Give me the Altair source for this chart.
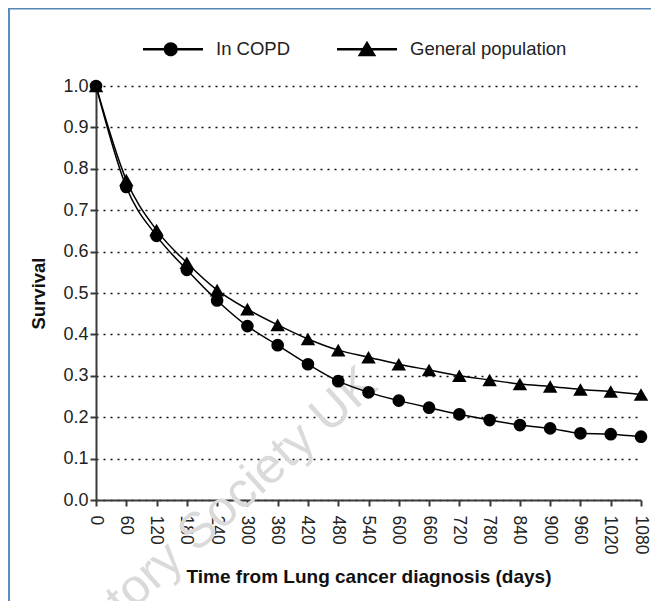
import altair as alt
import pandas as pd

# ---- data ----
days = [0, 60, 120, 180, 240, 300, 360, 420, 480, 540, 600, 660, 720, 780, 840, 900, 960, 1020, 1080]
copd = [1.0, 0.756, 0.638, 0.556, 0.482, 0.420, 0.374, 0.328, 0.287, 0.260, 0.240, 0.223,
        0.207, 0.193, 0.181, 0.173, 0.161, 0.159, 0.153]
general = [1.0, 0.773, 0.652, 0.573, 0.507, 0.461, 0.423, 0.389, 0.362, 0.345, 0.328, 0.314,
           0.300, 0.290, 0.280, 0.274, 0.267, 0.262, 0.255]
series_names = ["In COPD", "General population"]
y_ticks = [0.0, 0.1, 0.2, 0.3, 0.4, 0.5, 0.6, 0.7, 0.8, 0.9, 1.0]
x_ticks = days

rows = []
for name, vals in zip(series_names, [copd, general]):
    for d, v in zip(days, vals):
        rows.append({"days": d, "survival": v, "series": name})
df = pd.DataFrame(rows)

FONT = "Liberation Sans"

# legend symbols: horizontal bar (filled) with marker, all drawn clockwise
path_circle = ("M-1,-0.04L1,-0.04L1,0.04L-1,0.04Z"
               "M0.16,0A0.235,0.235,0,1,1,-0.31,0A0.235,0.235,0,1,1,0.16,0Z")
path_tri = ("M-1,-0.04L1,-0.04L1,0.04L-1,0.04Z"
            "M0,-0.28L0.31,0.23L-0.31,0.23Z")

x_enc = alt.X("days:Q",
              scale=alt.Scale(domain=[0, 1080], nice=False, zero=True),
              axis=alt.Axis(values=x_ticks, format="d", labelAngle=90, labelFontSize=17.5,
                            labelFont=FONT, labelColor="#222", labelPadding=9, labelOffset=-1,
                            tickSize=6, tickWidth=2, tickColor="#3a3a3a",
                            domainColor="#3a3a3a", domainWidth=2, grid=False,
                            labelFlush=False, labelOverlap=False,
                            title="Time from Lung cancer diagnosis (days)",
                            titleFont=FONT, titleFontSize=19, titleFontWeight="bold",
                            titleColor="#111", titlePadding=14))
y_enc = alt.Y("survival:Q",
              scale=alt.Scale(domain=[0, 1], nice=False),
              axis=alt.Axis(values=y_ticks, format=".1f", labelFontSize=18, labelFont=FONT,
                            labelColor="#222", labelPadding=2, tickSize=6, tickWidth=2,
                            tickColor="#3a3a3a", domainColor="#3a3a3a", domainWidth=2,
                            grid=True, gridColor="#111", gridDash=[2, 5], gridWidth=1.6,
                            labelFlush=False, labelOverlap=False,
                            title="Survival", titleFont=FONT, titleFontSize=18.5,
                            titleFontWeight="bold", titleColor="#111", titlePadding=14))

base = alt.Chart(df)

watermark = alt.Chart(pd.DataFrame({"t": ["Respiratory Society UK"]})).mark_text(
    angle=318, align="right", baseline="alphabetic", fontSize=50, font=FONT,
    color="#dadada"
).encode(x=alt.value(284), y=alt.value(302), text="t:N")

lines = base.mark_line(color="black", strokeWidth=1.5, interpolate="monotone").encode(
    x=x_enc, y=y_enc, detail="series:N")

points = base.mark_point(filled=True, color="black", opacity=1).encode(
    x=x_enc, y=y_enc,
    shape=alt.Shape("series:N", scale=alt.Scale(domain=series_names, range=["circle", "triangle-up"]),
                    legend=None),
    size=alt.Size("series:N", scale=alt.Scale(domain=series_names, range=[160, 210]), legend=None),
)

legend_layer = base.mark_point(filled=True, fill="black", opacity=0).encode(
    x=x_enc, y=y_enc,
    shape=alt.Shape("series:N",
                    scale=alt.Scale(domain=series_names, range=[path_circle, path_tri]),
                    legend=alt.Legend(title=None, orient="none", legendX=47, legendY=-67,
                                      direction="horizontal", symbolSize=3600,
                                      symbolStrokeWidth=0, symbolFillColor="black",
                                      symbolOpacity=1,
                                      labelFont=FONT, labelFontSize=18.5, labelColor="#222",
                                      labelOffset=13, columnPadding=46, padding=0)),
)

frame_left = alt.Chart(pd.DataFrame({"a": [0]})).mark_rule(color="#5b8cbf", strokeWidth=2).encode(
    x=alt.value(-87), y=alt.value(-78), y2=alt.value(520))
frame_top = alt.Chart(pd.DataFrame({"a": [0]})).mark_rule(color="#5588b8", strokeWidth=3).encode(
    x=alt.value(-88), x2=alt.value(560), y=alt.value(-78))

chart = alt.layer(watermark, lines, points, legend_layer, frame_left, frame_top).resolve_scale(
    shape="independent", size="independent"
).properties(
    width=545, height=414,
    padding={"left": 88, "top": 78, "right": 10, "bottom": 101},
    autosize=alt.AutoSizeParams(type="none"),
    background="white",
).configure_view(stroke=None)

chart.save("out.html", embed_options={"renderer": "svg", "actions": False})
